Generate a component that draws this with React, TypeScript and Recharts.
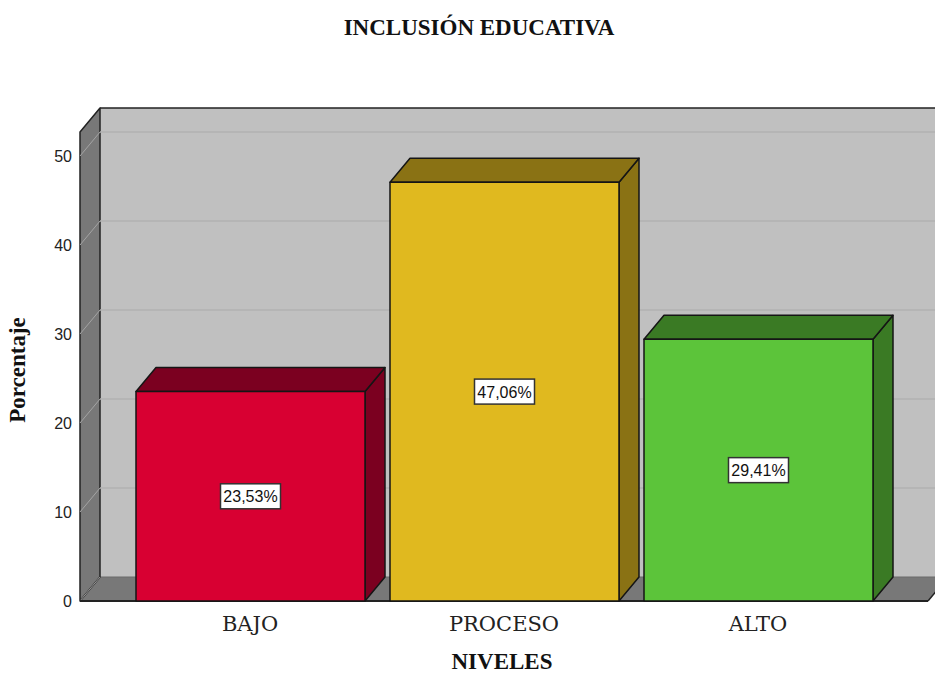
import React from 'react'
import {
  BarChart,
  Bar,
  XAxis,
  YAxis,
  CartesianGrid,
  ReferenceArea,
  LabelList,
  Label,
} from 'recharts'

const categories = ['BAJO', 'PROCESO', 'ALTO']
const percentages = [23.53, 47.06, 29.41]
const frontColors = ['#d80032', '#e0b91f', '#5cc43a']
const shadeColors = ['#7b0020', '#8a7214', '#3a7a24']
const yTicks = [0, 10, 20, 30, 40, 50]
const gridValues = [10, 20, 30, 40, 50]
const Y_MAX = 52.7

// depth of the fake 3D effect
const DX = 20
const DY = 24

const serif = '"Liberation Serif", "Times New Roman", serif'
const sans = '"Liberation Sans", Arial, sans-serif'

const data = categories.map((name, i) => ({ name, value: percentages[i] }))

const fmt = (v: number) => `${v.toFixed(2).replace('.', ',')}%`

function Walls(props: any) {
  const { x, y, width, height } = props
  const bottom = y + height
  const right = x + width
  return (
    <g>
      <rect x={x + DX} y={y - DY} width={width} height={height} fill="#c0c0c0" />
      <line x1={x + DX} y1={y - DY} x2={right + DX + 10} y2={y - DY} stroke="#222" strokeWidth={1.5} />
      <polygon
        points={`${x},${bottom} ${right},${bottom} ${right + DX},${bottom - DY} ${x + DX},${bottom - DY}`}
        fill="#787878"
      />
      <line x1={x + DX} y1={bottom - DY} x2={right + DX} y2={bottom - DY} stroke="#6a6a6a" strokeWidth={1} />
      <polygon
        points={`${x},${y} ${x + DX},${y - DY} ${x + DX},${bottom - DY} ${x},${bottom}`}
        fill="#787878"
        stroke="#222"
        strokeWidth={1.5}
        strokeLinejoin="round"
      />
      <line x1={x} y1={bottom} x2={x + DX} y2={bottom - DY} stroke="#9a9a9a" strokeWidth={1} />
      <line x1={x} y1={bottom} x2={right} y2={bottom} stroke="#222" strokeWidth={2} />
      <line x1={right} y1={bottom} x2={right + DX} y2={bottom - DY} stroke="#222" strokeWidth={1.5} />
    </g>
  )
}

function GridLine(props: any) {
  const { x1, y1, x2, key } = props
  return (
    <g key={key}>
      <line x1={x1 + DX} y1={y1 - DY} x2={x2 + DX + 10} y2={y1 - DY} stroke="#b2b2b2" strokeWidth={1.5} />
      <line x1={x1} y1={y1} x2={x1 + DX} y2={y1 - DY} stroke="#a4a4a4" strokeWidth={1} />
    </g>
  )
}

function Bar3D(props: any) {
  const { x, y, width, height, index } = props
  const front = frontColors[index]
  const shade = shadeColors[index]
  const r = x + width
  const b = y + height
  return (
    <g stroke="#151515" strokeWidth={1.5} strokeLinejoin="round">
      <polygon points={`${r},${y} ${r + DX},${y - DY} ${r + DX},${b - DY} ${r},${b}`} fill={shade} />
      <polygon points={`${x},${y} ${x + DX},${y - DY} ${r + DX},${y - DY} ${r},${y}`} fill={shade} />
      <rect x={x} y={y} width={width} height={height} fill={front} />
    </g>
  )
}

function ValueLabel(props: any) {
  const { x, y, width, height, value } = props
  const cx = x + width / 2
  const cy = y + height / 2
  return (
    <g>
      <rect x={cx - 30} y={cy - 12.5} width={60} height={25} fill="#fff" stroke="#333" strokeWidth={1.5} />
      <text x={cx} y={cy + 6} textAnchor="middle" fontFamily={sans} fontSize={16} fill="#111">
        {fmt(value)}
      </text>
    </g>
  )
}

export default function App() {
  return (
    <div
      style={{
        position: 'absolute',
        left: 0,
        top: 0,
        width: 935,
        height: 674,
        overflow: 'hidden',
        background: '#fff',
      }}
    >
      <div
        style={{
          position: 'absolute',
          top: 17,
          left: 0,
          width: 958,
          textAlign: 'center',
          fontFamily: serif,
          fontWeight: 'bold',
          fontSize: 23,
          lineHeight: '22px',
          color: '#111',
        }}
      >
        INCLUSIÓN EDUCATIVA
      </div>
      <BarChart
        width={935}
        height={674}
        data={data}
        margin={{ top: 132, right: 7, bottom: 33, left: 20 }}
      >
        <XAxis xAxisId="wall" type="number" domain={[0, 1]} allowDataOverflow hide />
        <ReferenceArea
          xAxisId="wall"
          y1={0}
          y2={Y_MAX}
          ifOverflow="visible"
          zIndex={-200}
          shape={(p: any) => <Walls {...p} />}
        />
        <CartesianGrid
          vertical={false}
          horizontalValues={gridValues}
          zIndex={-100}
          horizontal={(p: any) => <GridLine {...p} />}
        />
        <XAxis
          dataKey="name"
          padding={{ left: 43, right: 43 }}
          height={40}
          axisLine={false}
          tickLine={false}
          tickSize={0}
          tickMargin={15}
          interval={0}
          tick={{ fontFamily: '"DejaVu Serif", serif', fontSize: 21, fill: '#222' }}
        >
          <Label
            content={(p: any) => (
              <text
                x={p.viewBox.x + p.viewBox.width / 2 - 2}
                y={p.viewBox.y + 68}
                textAnchor="middle"
                fontFamily={serif}
                fontWeight="bold"
                fontSize={23}
                fill="#111"
              >
                NIVELES
              </text>
            )}
          />
        </XAxis>
        <YAxis
          domain={[0, Y_MAX]}
          ticks={yTicks}
          width={60}
          axisLine={false}
          tickLine={false}
          tickSize={0}
          tickMargin={8}
          tick={{ fontFamily: sans, fontSize: 16, fill: '#222' }}
        >
          <Label
            content={(p: any) => {
              const lx = p.viewBox.x + 5
              const ly = p.viewBox.y + p.viewBox.height / 2 + 3.5
              return (
                <text
                  x={lx}
                  y={ly}
                  transform={`rotate(-90, ${lx}, ${ly})`}
                  textAnchor="middle"
                  fontFamily={serif}
                  fontWeight="bold"
                  fontSize={23}
                  fill="#111"
                >
                  Porcentaje
                </text>
              )
            }}
          />
        </YAxis>
        <Bar dataKey="value" barSize={229} isAnimationActive={false} shape={(p: any) => <Bar3D {...p} />}>
          <LabelList dataKey="value" content={(p: any) => <ValueLabel {...p} />} />
        </Bar>
      </BarChart>
    </div>
  )
}
